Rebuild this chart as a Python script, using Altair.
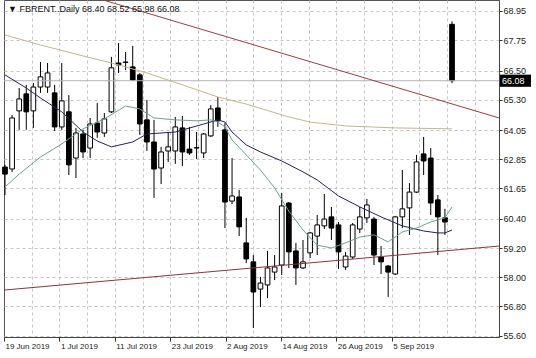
import altair as alt
import pandas as pd

# ---- OHLC data (daily FBRENT, 19 Jun 2019 .. 16 Sep 2019) ----
opens = [62.53, 62.45, 64.84, 65.54, 64.84, 65.82, 65.82, 65.58, 64.18, 64.80,
         62.90, 63.89, 63.31, 64.34, 63.93, 64.80, 66.81, 66.83, 66.65, 66.32,
         64.47, 63.56, 62.49, 63.19, 63.19, 64.14, 63.27, 63.31, 63.11, 63.81,
         64.96, 64.06, 61.13, 61.30, 59.41, 58.63, 57.51, 57.68, 58.21, 58.50,
         61.05, 59.08, 58.38, 59.00, 59.69, 60.11, 60.48, 60.15, 58.42, 58.83,
         59.98, 60.44, 60.39, 58.83, 58.46, 58.13, 60.48, 60.85, 61.50, 63.07,
         62.90, 61.18, 60.44, 68.40]
highs = [62.62, 64.67, 65.78, 65.91, 65.99, 66.85, 66.81, 65.91, 66.81, 65.49,
         64.14, 64.06, 64.55, 65.17, 64.75, 67.06, 67.63, 67.26, 67.51, 66.40,
         65.29, 64.47, 63.36, 63.97, 64.59, 64.63, 64.18, 63.97, 63.93, 65.08,
         65.41, 64.34, 62.90, 61.59, 60.44, 58.91, 58.01, 59.08, 58.91, 61.46,
         61.09, 59.41, 59.53, 59.86, 60.56, 61.42, 60.89, 60.27, 59.04, 60.23,
         60.89, 61.22, 60.48, 59.28, 58.50, 60.52, 62.41, 61.87, 63.03, 63.77,
         63.31, 61.38, 60.81, 68.52]
lows = [61.38, 62.33, 64.06, 64.06, 64.14, 65.58, 65.58, 64.01, 64.06, 62.20,
        62.08, 62.90, 62.90, 63.73, 63.77, 64.75, 66.40, 66.52, 66.07, 63.85,
        63.19, 61.26, 61.83, 62.74, 62.66, 62.57, 63.03, 62.86, 62.90, 63.77,
        64.18, 60.02, 61.01, 59.69, 58.58, 55.91, 56.77, 57.14, 57.88, 58.09,
        58.38, 57.68, 58.34, 58.79, 58.91, 59.98, 59.53, 58.34, 58.30, 58.75,
        59.82, 60.23, 58.50, 58.13, 57.19, 58.09, 60.02, 59.74, 61.46, 62.20,
        60.56, 58.91, 59.74, 65.98]
closes = [62.24, 64.55, 65.33, 64.80, 65.82, 66.24, 66.40, 64.18, 65.25, 62.62,
          63.93, 63.15, 64.30, 63.97, 64.51, 66.61, 66.73, 66.85, 66.11, 64.30,
          63.56, 62.45, 63.15, 63.36, 64.18, 63.15, 63.11, 63.33, 63.89, 64.92,
          64.43, 61.09, 61.34, 60.07, 58.75, 57.39, 57.76, 58.38, 58.42, 60.93,
          59.04, 58.38, 58.63, 59.82, 60.15, 60.39, 60.02, 59.04, 58.87, 60.15,
          60.48, 60.97, 58.91, 58.63, 58.21, 60.48, 60.81, 61.50, 62.74, 62.78,
          61.05, 60.48, 60.27, 66.08]

# ---- moving averages, read at selected bars ----
ma_slow_idx = [0, 5, 11, 15, 20, 25, 30, 34, 40, 43, 48, 55, 63]
ma_slow_val = [67.96, 67.55, 67.10, 66.81, 66.40, 65.91, 65.41, 65.12, 64.59, 64.38, 64.22, 64.14, 64.10]

ma_mid_idx = [0, 3, 5, 8, 11, 13, 15, 18, 20, 24, 28, 30, 31, 32, 34, 36, 39, 42, 44, 47, 50, 53, 56, 59, 61, 62, 63]
ma_mid_val = [66.32, 65.78, 65.37, 64.80, 63.97, 63.60, 63.36, 63.56, 63.89, 63.97, 64.30, 64.47, 64.38,
              63.97, 63.44, 63.15, 62.78, 62.33, 62.00, 61.34, 60.89, 60.48, 60.11, 59.90, 59.82, 59.82, 59.94]

ma_fast_idx = [0, 2, 5, 8, 11, 14, 17, 19, 21, 24, 27, 29, 30, 31, 32, 34, 36, 38, 40, 42, 44, 46, 48,
               50, 52, 54, 56, 58, 60, 62, 63]
ma_fast_val = [61.71, 62.24, 62.94, 63.48, 64.10, 64.51, 65.04, 64.92, 64.55, 64.47, 64.43, 64.47, 64.38,
               64.18, 63.64, 63.03, 62.41, 61.67, 60.72, 59.94, 59.32, 59.20, 59.41, 59.65, 59.74, 59.45,
               59.86, 60.02, 60.27, 60.44, 60.89]

# ---- trend lines (two anchor points each) ----
upper_trend_idx = [12.0, 69.62]
upper_trend_val = [69.56, 64.55]
lower_trend_idx = [-0.14, 69.62]
lower_trend_val = [57.47, 59.28]

# ---- axes ----
y_ticks = [68.95, 67.75, 66.50, 65.30, 64.05, 62.85, 61.65, 60.40, 59.20, 58.00, 56.80, 55.60]
x_label_text = ["19 Jun 2019", "1 Jul 2019", "11 Jul 2019", "23 Jul 2019",
                "2 Aug 2019", "14 Aug 2019", "26 Aug 2019", "5 Sep 2019"]
x_label_pos = [-0.14, 7.67, 15.47, 23.28, 31.09, 38.9, 46.7, 54.5]
x_grid_pos = [3.8, 7.67, 11.6, 15.47, 19.4, 23.28, 27.2, 31.09, 35.0, 38.9,
              42.8, 46.7, 50.6, 54.5, 58.4, 62.3, 66.2]

X_DOMAIN = [-0.14, 69.62]
Y_DOMAIN = [55.54, 69.40]
FONT = "Liberation Sans"

df = pd.DataFrame({"i": list(range(len(opens))), "open": opens, "high": highs,
                   "low": lows, "close": closes})
df["x0"] = df["i"] - 0.33
df["x1"] = df["i"] + 0.33

xs = alt.Scale(domain=X_DOMAIN, nice=False, zero=False)
ys = alt.Scale(domain=Y_DOMAIN, nice=False, zero=False)

label_map = "{" + ",".join(f"'{p}':'{t}'" for p, t in zip(x_label_pos, x_label_text)) + "}"

y_axis = alt.Axis(orient="right", values=y_ticks, format=".2f", title=None,
                  grid=True, gridDash=[3, 3], gridColor="#c4c4c4", gridWidth=1,
                  tickSize=3, tickColor="#333", labelPadding=1, labelFont=FONT,
                  labelFontSize=9, labelColor="#222", domain=True,
                  domainColor="#444", labelAlign="left", labelBaseline="middle",
                  labelOverlap=False, labelFlush=False, labelBound=False)

grid_x_axis = alt.Axis(orient="bottom", values=x_grid_pos, grid=True, gridDash=[3, 3],
                       gridColor="#c4c4c4", labels=False, ticks=False, domain=False,
                       title=None)

lab_x_axis = alt.Axis(orient="bottom", values=x_label_pos, grid=False, ticks=True, tickSize=4,
                      tickColor="#333", labelAlign="left", labelBaseline="top", labelPadding=1,
                      labelFont=FONT, labelFontSize=8, labelColor="#222", labelOffset=1,
                      labelExpr=f"{label_map}[toString(datum.value)]",
                      domain=True, domainColor="#444", title=None, labelFlush=False,
                      labelOverlap=False)

base = alt.Chart(df)

wicks = base.mark_rule(color="black", strokeWidth=1).encode(
    x=alt.X("i:Q", scale=xs, axis=grid_x_axis),
    y=alt.Y("low:Q", scale=ys, axis=y_axis),
    y2="high:Q",
)

bodies = base.mark_rect(stroke="black", strokeWidth=1).encode(
    x=alt.X("x0:Q", scale=xs, axis=lab_x_axis),
    x2="x1:Q",
    y=alt.Y("open:Q", scale=ys, axis=y_axis),
    y2="close:Q",
    fill=alt.condition("datum.close < datum.open", alt.value("black"), alt.value("white")),
)

last = df.iloc[[-1]].copy()
bid = alt.Chart(last).mark_rule(color="#b4b4b4", strokeWidth=1).encode(
    y=alt.Y("close:Q", scale=ys, axis=y_axis))


def line_layer(idx, val, color, width=1):
    d = pd.DataFrame({"i": idx, "v": val})
    return alt.Chart(d).mark_line(color=color, strokeWidth=width, clip=True).encode(
        x=alt.X("i:Q", scale=xs, axis=None),
        y=alt.Y("v:Q", scale=ys, axis=y_axis),
    )


slow = line_layer(ma_slow_idx, ma_slow_val, "#c9b48e")
mid = line_layer(ma_mid_idx, ma_mid_val, "#23235e")
fast = line_layer(ma_fast_idx, ma_fast_val, "#6f9f92")
up_tr = line_layer(upper_trend_idx, upper_trend_val, "#9e3d3d")
lo_tr = line_layer(lower_trend_idx, lower_trend_val, "#8e3535")

title_txt = "\u25BC FBRENT..Daily  " + " ".join(
    f"{v:.2f}" for v in (opens[-1], highs[-1], lows[-1], closes[-1]))
title = alt.Chart(last).mark_text(align="left", baseline="middle", font=FONT,
                                  fontSize=9, color="#111").encode(
    x=alt.value(4), y=alt.value(9), text=alt.value(title_txt))

last["b_top"] = last["close"] + 0.25
last["b_bot"] = last["close"] - 0.25
last["lbl"] = last["close"].map(lambda v: f"{v:.2f}")
pbox = alt.Chart(last).mark_rect(color="black", clip=False).encode(
    x=alt.value(496), x2=alt.value(527),
    y=alt.Y("b_top:Q", scale=ys, axis=y_axis), y2="b_bot:Q")
ptxt = alt.Chart(last).mark_text(align="left", baseline="middle", color="white",
                                 font=FONT, fontSize=9, clip=False).encode(
    x=alt.value(498), y=alt.Y("close:Q", scale=ys, axis=y_axis), text="lbl:N")

chart = alt.layer(
    wicks, bodies, bid, slow, mid, fast, up_tr, lo_tr, title, pbox, ptxt
).resolve_axis(x="independent").properties(
    width=495, height=337,
    padding={"left": 4, "top": 0, "right": 37, "bottom": 21},
    autosize=alt.AutoSizeParams(type="none"),
    background="white",
).configure_view(stroke="#555", strokeWidth=1).configure_axis(labelOverlap=False)

chart.save("out.html", embed_options={"renderer": "svg", "actions": False})
